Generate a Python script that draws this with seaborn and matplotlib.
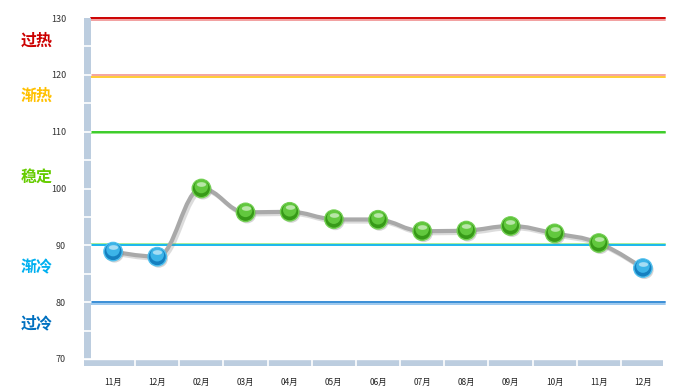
import numpy as np
import matplotlib
matplotlib.use("Agg")
import matplotlib.pyplot as plt
import matplotlib.patheffects as pe
from matplotlib.path import Path
from matplotlib.patches import PathPatch, Rectangle
from matplotlib.transforms import blended_transform_factory, ScaledTranslation, Affine2D
import seaborn as sns

# ---- data ----
months = ["11月", "12月", "02月", "03月", "04月", "05月", "06月",
          "07月", "08月", "09月", "10月", "11月", "12月"]
values = [88.9, 88.0, 100.0, 95.8, 95.9, 94.6, 94.5,
          92.5, 92.6, 93.4, 92.1, 90.4, 86.0]
y_ticks = [70, 80, 90, 100, 110, 120, 130]

level_values = [130, 120, 110, 90, 80]
level_colors = ["#cc0000", "#f4a4a0", "#3ccc2a", "#19b8ee", "#3a8ed6"]
level_under = ["#f2a0a0", "#ffcc33", "#9be88a", "#a8ec98", "#9cc8ee"]
level_shift = [-1, -1, -1, 1, -1]

zone_names = ["过热", "渐热", "稳定", "渐冷", "过冷"]
zone_y = [126.1, 116.3, 102.0, 86.2, 76.3]
zone_colors = ["#cc0000", "#ffc000", "#66cc00", "#00b0f0", "#0070c0"]

cold_limit = 90


def spline_path(xs, ys, smoothing=1.5):
    # highcharts-like smoothing between points
    n = len(xs)
    lc = [None] * n
    rc = [None] * n
    denom = smoothing + 1
    for i in range(1, n - 1):
        px, py = xs[i], ys[i]
        lx, ly = xs[i - 1], ys[i - 1]
        nx, ny = xs[i + 1], ys[i + 1]
        lcx = (smoothing * px + lx) / denom
        lcy = (smoothing * py + ly) / denom
        rcx = (smoothing * px + nx) / denom
        rcy = (smoothing * py + ny) / denom
        corr = (rcy - lcy) * (rcx - px) / (rcx - lcx) + py - rcy
        lcy += corr
        rcy += corr
        if lcy > ly and lcy > py:
            lcy = max(ly, py)
            rcy = 2 * py - lcy
        elif lcy < ly and lcy < py:
            lcy = min(ly, py)
            rcy = 2 * py - lcy
        if rcy > ny and rcy > py:
            rcy = max(ny, py)
            lcy = 2 * py - rcy
        elif rcy < ny and rcy < py:
            rcy = min(ny, py)
            lcy = 2 * py - rcy
        lc[i] = (lcx, lcy)
        rc[i] = (rcx, rcy)
    verts = [(xs[0], ys[0])]
    codes = [Path.MOVETO]
    for i in range(1, n):
        c1 = rc[i - 1] if rc[i - 1] is not None else (xs[i - 1], ys[i - 1])
        c2 = lc[i] if lc[i] is not None else (xs[i], ys[i])
        verts += [c1, c2, (xs[i], ys[i])]
        codes += [Path.CURVE4] * 3
    return Path(verts, codes)


def shift(ax, fig, dx_px, dy_px):
    ax.collections[-1].set_offset_transform(
        ax.transData + ScaledTranslation(dx_px / 100, dy_px / 100, fig.dpi_scale_trans))


sns.set_style("white")
plt.rcParams["font.family"] = ["Noto Sans CJK SC", "DejaVu Sans"]

fig = plt.figure(figsize=(6.8, 3.91), dpi=100)
ax = fig.add_axes([91 / 680, 32 / 391, 574 / 680, 341 / 391])

x = np.arange(len(months))
status = ["cold" if v < cold_limit else "ok" for v in values]

ax.set_xlim(-0.5, len(months) - 0.5)
ax.set_ylim(70, 130)

# level lines
for v, c, cu, sh in zip(level_values, level_colors, level_under, level_shift):
    ax.axhline(v, color=c, lw=1.4, zorder=2, clip_on=False,
               path_effects=[pe.SimpleLineShadow(offset=(0, sh * 1.2), shadow_color=cu, alpha=1.0),
                             pe.Normal()])

# smooth gray line
path = spline_path(list(x), values)
ax.add_patch(PathPatch(path, fill=False, edgecolor="#a9a9a9", lw=3.0, zorder=3,
                       capstyle="round", joinstyle="round",
                       path_effects=[pe.SimpleLineShadow(offset=(1.5, -1.5), shadow_color="#777777", alpha=0.25),
                                     pe.Normal()]))

# glossy markers
base_pal = {"cold": "#1580c0", "ok": "#379a18"}
rim_pal = {"cold": "#50c0ee", "ok": "#74d054"}
light_pal = {"cold": "#3cb4e8", "ok": "#62c83e"}
gloss = Path.unit_circle().transformed(Affine2D().scale(1.0, 0.5))

sns.scatterplot(x=x, y=values, hue=status, palette={"cold": "#777777", "ok": "#777777"},
                s=175, linewidth=0, alpha=0.3, legend=False, ax=ax, zorder=4)
shift(ax, fig, 1.5, -1.8)
sns.scatterplot(x=x, y=values, hue=status, palette=base_pal, s=175,
                edgecolor=[rim_pal[s_] for s_ in status], linewidth=1.0,
                legend=False, ax=ax, zorder=5)
sns.scatterplot(x=x, y=values, hue=status, palette=light_pal, s=95,
                linewidth=0, legend=False, ax=ax, zorder=6)
shift(ax, fig, 0, 2)
sns.scatterplot(x=x, y=values, color="white", s=45, marker=gloss,
                linewidth=0, alpha=0.55, legend=False, ax=ax, zorder=7)
shift(ax, fig, 0, 4.5)
for c in ax.collections:
    c.set_clip_on(False)

# ticks
ax.set_xticks(x)
ax.set_xticklabels(months)
ax.set_yticks(y_ticks)
ax.tick_params(axis="x", length=0, pad=14, labelsize=6, labelcolor="#222222")
ax.tick_params(axis="y", length=10, width=1, color="#a8bcd2", pad=8,
               labelsize=6.5, labelcolor="#333333")
for sp in ax.spines.values():
    sp.set_visible(False)
ax.grid(False)

# left bar and bottom bar
bar_col = "#bccddf"
px_w = 1 / 574
px_h = 1 / 341
ax.add_patch(Rectangle((-7 * px_w, -7 * px_h), 7 * px_w, 1 + 7 * px_h, transform=ax.transAxes,
                       facecolor=bar_col, edgecolor="none", clip_on=False, zorder=8))
ax.add_patch(Rectangle((0, -7 * px_h), 1 - 2 * px_w, 7 * px_h, transform=ax.transAxes,
                       facecolor=bar_col, edgecolor="none", clip_on=False, zorder=8))
ytr = blended_transform_factory(ax.transAxes, ax.transData)
for v in range(70, 131, 5):
    if v == 130:
        continue
    ax.plot([-7 * px_w, 0], [v, v], color="white", lw=1.2, transform=ytr,
            clip_on=False, zorder=9)
xtr = blended_transform_factory(ax.transData, ax.transAxes)
for xe in np.arange(0.5, len(months) - 1, 1.0):
    ax.plot([xe, xe], [-7 * px_h, 0], color="white", lw=1.2, transform=xtr,
            clip_on=False, zorder=9)
ax.plot([-7 * px_w, 1], [0, 0], color="white", lw=1.0, transform=ax.transAxes,
        clip_on=False, zorder=9)

# zone names on the left
ztr = blended_transform_factory(fig.transFigure, ax.transData)
for name, zy, zc in zip(zone_names, zone_y, zone_colors):
    ax.text(37 / 680, zy, name, transform=ztr, ha="center", va="center",
            fontsize=11.5, fontweight="bold", color=zc, clip_on=False)

fig.savefig("out.png", dpi=100)
